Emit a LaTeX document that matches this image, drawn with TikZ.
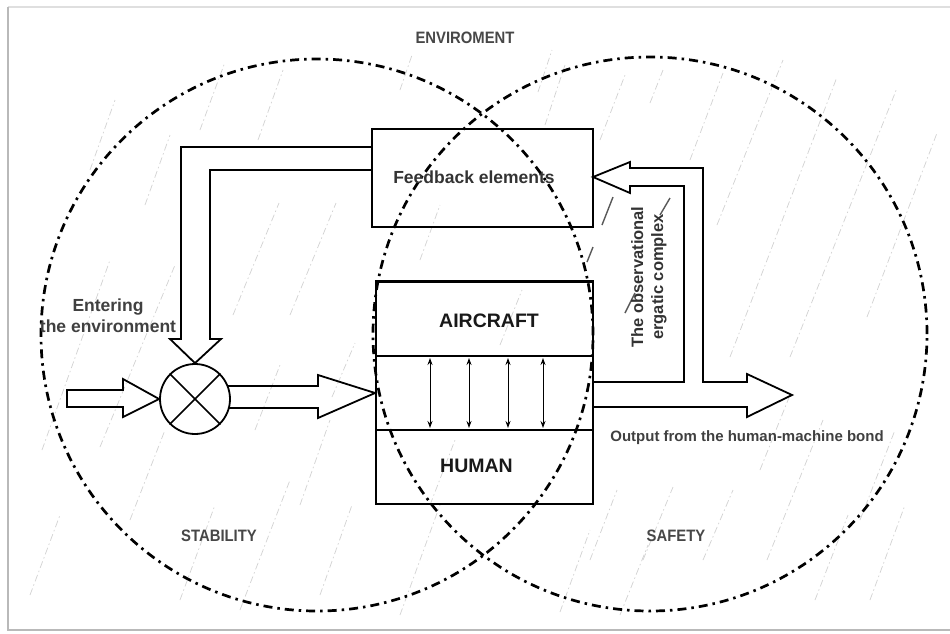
\documentclass[tikz,border=0pt]{standalone}
\usepackage{fontspec}
\setmainfont{Liberation Sans}
\usetikzlibrary{arrows.meta,calc}

\tikzset{
  zone/.style={line width=2.7pt, dash pattern=on 9pt off 5pt on 2.5pt off 5pt},
  hatch/.style={gray!35, line width=0.7pt, dash pattern=on 7pt off 3pt on 1.5pt off 3pt},
  slashmark/.style={gray!70!black, line width=1.4pt},
  block/.style={draw, line width=1.8pt, inner sep=0pt},
  fatarrow/.style={draw, line width=1.8pt, line join=miter},
  band/.style={line width=2.8pt},
  link/.style={line width=1pt, {Stealth[length=7pt,width=5pt]}-{Stealth[length=7pt,width=5pt]}},
  boldlabel/.style={font=\bfseries\fontsize{17.5}{21}\selectfont, text=black!80, align=center, inner sep=0pt},
  biglabel/.style={font=\bfseries\fontsize{19.5}{22}\selectfont, text=black!90, inner sep=0pt},
  zonelabel/.style={font=\bfseries\fontsize{16.5}{18}\selectfont, text=black!72, inner sep=0pt, xscale=0.9}
}

\begin{document}
\begin{tikzpicture}[x=1pt,y=-1pt]
\useasboundingbox (0,0) rectangle (950,633);
\fill[white] (0,0) rectangle (950,633);

% card outline
\draw[gray!25, line width=1.5pt] (8,7) -- (950,7);
\draw[gray!55, line width=2.5pt] (8,7) -- (8,630) -- (950,630);

% faint background hatching
\foreach \xa/\ya/\xb/\yb in {
  42/450/110/260, 100/447/175/265, 233/315/279/203, 290/315/336/203,
  332/397/355/343, 90/170/115/100, 145/205/170/135, 200/130/225/62,
  258/140/283/70, 130/520/165/430, 180/600/215/505, 240/610/290/480,
  300/505/330/420, 320/595/352/505, 400/615/440/505, 430/505/455/440,
  400/90/412/55, 538/92/552/50, 545/125/565/65, 600/140/625/75,
  650/103/663/70, 690/160/723/73, 717/225/783/60, 730/357/837/77,
  790/357/897/88, 867/317/937/133, 590/560/617/490, 643/560/673/487,
  703/560/733/490, 767/560/823/420, 560/612/590/530, 620/615/648/545,
  815/600/848/515, 500/345/522/290, 760/470/790/395, 860/520/895/430,
  30/595/60/515, 870/600/905/505, 420/260/440/205, 255/430/280/365}
  \draw[hatch] (\xa,\ya) -- (\xb,\yb);

\draw[slashmark] (613,197) -- (602,225);
\draw[slashmark] (670,198) -- (660,215);
\draw[slashmark] (635,293) -- (625,313);
\draw[slashmark] (593,247) -- (587,262);

% the two overlapping zones
\node[draw, zone, circle, minimum size=552pt, inner sep=0pt] (stab) at (317,335) {};
\node[draw, zone, circle, minimum size=554pt, inner sep=0pt] (safe) at (650,334) {};

% zone captions
\node[zonelabel] (env) at (465,38) {ENVIROMENT};
\node[zonelabel] (stabtxt) at (219,536) {STABILITY};
\node[zonelabel] (safetxt) at (676,536) {SAFETY};

% feedback elements box
\node[block, minimum width=221pt, minimum height=98pt] (fb) at (482.5,178) {};
\node[boldlabel] (fbtxt) at (474,177) {Feedback elements};

% aircraft / human block
\node[block, minimum width=217pt, minimum height=222pt] (hm) at (484.5,393) {};
\coordinate (bandA) at (376,356);
\coordinate (bandB) at (376,430);
\draw[band] (hm.north west) -- (hm.north east);
\draw[band] (bandA) -- (bandA -| hm.east);
\draw[band] (bandB) -- (bandB -| hm.east);
\node[biglabel, anchor=west] (air) at (439,321) {AIRCRAFT};
\node[biglabel, anchor=west] (hum) at (440,466) {HUMAN};

% interaction links between aircraft and human
\foreach \x [count=\i] in {430,469,508,543} {
  \coordinate (lt\i) at (\x,358);
  \coordinate (lb\i) at (\x,428);
  \draw[link] (lt\i) -- (lb\i);
}

% summing junction
\node[draw, circle, line width=1.8pt, minimum size=70pt, inner sep=0pt] (sj) at (195,399) {};
\draw[line width=1.6pt] (sj.north west) -- (sj.south east);
\draw[line width=1.6pt] (sj.south west) -- (sj.north east);

% input arrow
\draw[fatarrow] (sj.west) -- (123,417) -- (123,407) -- (67,407) -- (67,390)
  -- (123,390) -- (123,379) -- cycle;
\node[boldlabel, text=black!75] (entxt) at (108,316) {Entering\\the environment};

% junction to human-machine block
\draw[fatarrow] ($(sj.center)+(33,-13)$) -- (318,386) -- (318,375) -- (hm.west)
  -- (318,418) -- (318,408) -- ($(sj.center)+(33,9)$);

% feedback path back to the junction
\draw[fatarrow] (372,147) -- (181,147) -- (181,339) -- (170,339) -- (sj.north)
  -- (221,339) -- (210,339) -- (210,170) -- (372,170);

% output arrow with observation branch to the feedback box
\coordinate (fbin) at (593,177);
\draw[fatarrow] (593,407) -- (747,407) -- (747,417) -- (792,395) -- (747,374)
  -- (747,382) -- (703,382) -- (703,168) -- (630,168) -- (630,162) -- (fbin)
  -- (630,193) -- (630,186) -- (684,186) -- (684,382) -- (593,382);

\node[boldlabel, rotate=90, font=\bfseries\fontsize{16.5}{20}\selectfont] (obs) at (649,277)
  {The observational\\ergatic complex};
\node[boldlabel, font=\bfseries\fontsize{15}{18}\selectfont, text=black!75] (outtxt) at (747,438)
  {Output from the human-machine bond};
\end{tikzpicture}
\end{document}
